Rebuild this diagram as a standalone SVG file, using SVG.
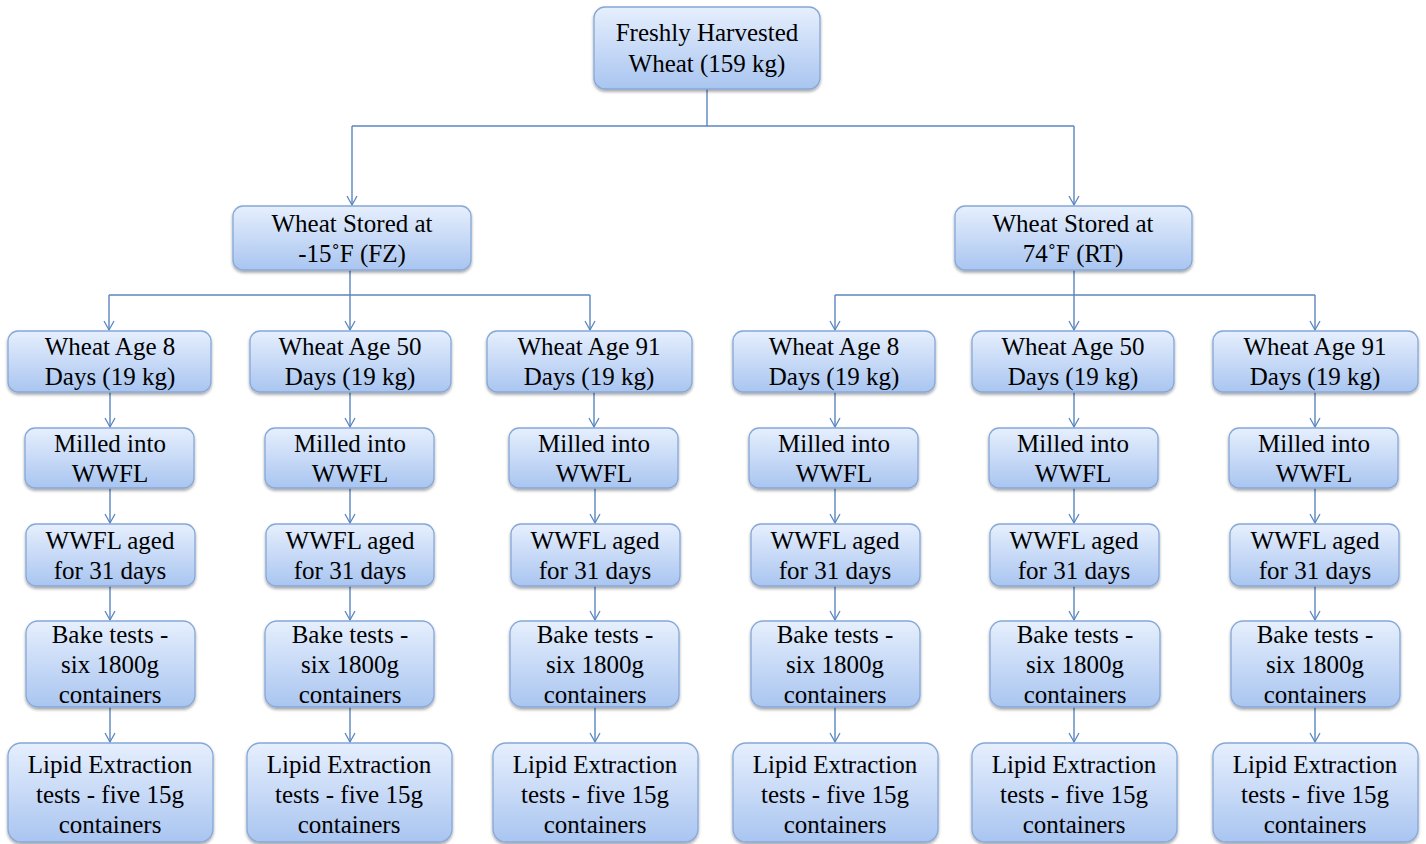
<svg xmlns="http://www.w3.org/2000/svg" width="1426" height="844" viewBox="0 0 1426 844">
<style>
.b{fill:url(#g);stroke:#86a8d8;stroke-width:1.3;filter:url(#sh)}
.c{fill:none;stroke:#5a86c0;stroke-width:1.4}
.a{fill:none;stroke:#5a86c0;stroke-width:1.4;marker-end:url(#ar)}
</style>
<defs>
<linearGradient id="g" x1="0" y1="0" x2="0" y2="1">
<stop offset="0" stop-color="#e6effd"/>
<stop offset="1" stop-color="#a9c5f0"/>
</linearGradient>
<filter id="sh" x="-10%" y="-10%" width="120%" height="130%">
<feDropShadow dx="0" dy="2" stdDeviation="1.5" flood-color="#000" flood-opacity="0.35"/>
</filter>
<marker id="ar" markerWidth="12" markerHeight="12" refX="10" refY="6" orient="auto" markerUnits="userSpaceOnUse" viewBox="0 0 12 12">
<path d="M1,1 L10,6 L1,11" fill="none" stroke="#5a86c0" stroke-width="1.3"/>
</marker>
</defs>
<rect width="1426" height="844" fill="#fff"/>
<g id="connectors">
<path class="c" d="M707,89 V126 M352,126 H1074"/>
<path class="a" d="M352,126 V205"/>
<path class="a" d="M1074,126 V205"/>
<path class="c" d="M350,270 V295 M109,295 H590"/>
<path class="a" d="M109,295 V330"/>
<path class="a" d="M350,295 V330"/>
<path class="a" d="M590,295 V330"/>
<path class="c" d="M1074,270 V295 M835,295 H1315"/>
<path class="a" d="M835,295 V330"/>
<path class="a" d="M1074,295 V330"/>
<path class="a" d="M1315,295 V330"/>
<path class="a" d="M110,392 V427"/><path class="a" d="M350,392 V427"/><path class="a" d="M594,392 V427"/><path class="a" d="M835,392 V427"/><path class="a" d="M1074,392 V427"/><path class="a" d="M1315,392 V427"/>
<path class="a" d="M110,488 V523"/><path class="a" d="M350,488 V523"/><path class="a" d="M595,488 V523"/><path class="a" d="M835,488 V523"/><path class="a" d="M1074,488 V523"/><path class="a" d="M1315,488 V523"/>
<path class="a" d="M110,586 V620"/><path class="a" d="M350,586 V620"/><path class="a" d="M595,586 V620"/><path class="a" d="M835,586 V620"/><path class="a" d="M1074,586 V620"/><path class="a" d="M1315,586 V620"/>
<path class="a" d="M110,707 V742"/><path class="a" d="M350,707 V742"/><path class="a" d="M595,707 V742"/><path class="a" d="M835,707 V742"/><path class="a" d="M1074,707 V742"/><path class="a" d="M1315,707 V742"/>
</g>
<g id="nodes" font-family="Liberation Serif" font-size="25" fill="#000" text-anchor="middle">
<g id="root"><rect class="b" x="594" y="7" width="226" height="82" rx="11"/><text x="707" y="41">Freshly Harvested</text><text x="707" y="72">Wheat (159 kg)</text></g>
<g id="fz"><rect class="b" x="233" y="206" width="238" height="64" rx="10"/><text x="352" y="232">Wheat Stored at</text><text x="352" y="262">-15˚F (FZ)</text></g>
<g id="rt"><rect class="b" x="955" y="206" width="237" height="64" rx="10"/><text x="1073" y="232">Wheat Stored at</text><text x="1073" y="262">74˚F (RT)</text></g>

<g id="age1"><rect class="b" x="8" y="331" width="203" height="61" rx="10"/><text x="110" y="355">Wheat Age 8</text><text x="110" y="385">Days (19 kg)</text></g>
<g id="age2"><rect class="b" x="250" y="331" width="201" height="61" rx="10"/><text x="350" y="355">Wheat Age 50</text><text x="350" y="385">Days (19 kg)</text></g>
<g id="age3"><rect class="b" x="487" y="331" width="205" height="61" rx="10"/><text x="589" y="355">Wheat Age 91</text><text x="589" y="385">Days (19 kg)</text></g>
<g id="age4"><rect class="b" x="733" y="331" width="202" height="61" rx="10"/><text x="834" y="355">Wheat Age 8</text><text x="834" y="385">Days (19 kg)</text></g>
<g id="age5"><rect class="b" x="972" y="331" width="202" height="61" rx="10"/><text x="1073" y="355">Wheat Age 50</text><text x="1073" y="385">Days (19 kg)</text></g>
<g id="age6"><rect class="b" x="1213" y="331" width="205" height="61" rx="10"/><text x="1315" y="355">Wheat Age 91</text><text x="1315" y="385">Days (19 kg)</text></g>

<g id="mill1"><rect class="b" x="25" y="428" width="169" height="60" rx="10"/><text x="110" y="452">Milled into</text><text x="110" y="482">WWFL</text></g>
<g id="mill2"><rect class="b" x="265" y="428" width="169" height="60" rx="10"/><text x="350" y="452">Milled into</text><text x="350" y="482">WWFL</text></g>
<g id="mill3"><rect class="b" x="509" y="428" width="169" height="60" rx="10"/><text x="594" y="452">Milled into</text><text x="594" y="482">WWFL</text></g>
<g id="mill4"><rect class="b" x="749" y="428" width="169" height="60" rx="10"/><text x="834" y="452">Milled into</text><text x="834" y="482">WWFL</text></g>
<g id="mill5"><rect class="b" x="989" y="428" width="169" height="60" rx="10"/><text x="1073" y="452">Milled into</text><text x="1073" y="482">WWFL</text></g>
<g id="mill6"><rect class="b" x="1229" y="428" width="169" height="60" rx="10"/><text x="1314" y="452">Milled into</text><text x="1314" y="482">WWFL</text></g>

<g id="aged1"><rect class="b" x="26" y="524" width="169" height="62" rx="10"/><text x="110" y="549">WWFL aged</text><text x="110" y="579">for 31 days</text></g>
<g id="aged2"><rect class="b" x="266" y="524" width="168" height="62" rx="10"/><text x="350" y="549">WWFL aged</text><text x="350" y="579">for 31 days</text></g>
<g id="aged3"><rect class="b" x="511" y="524" width="169" height="62" rx="10"/><text x="595" y="549">WWFL aged</text><text x="595" y="579">for 31 days</text></g>
<g id="aged4"><rect class="b" x="751" y="524" width="169" height="62" rx="10"/><text x="835" y="549">WWFL aged</text><text x="835" y="579">for 31 days</text></g>
<g id="aged5"><rect class="b" x="990" y="524" width="169" height="62" rx="10"/><text x="1074" y="549">WWFL aged</text><text x="1074" y="579">for 31 days</text></g>
<g id="aged6"><rect class="b" x="1230" y="524" width="169" height="62" rx="10"/><text x="1315" y="549">WWFL aged</text><text x="1315" y="579">for 31 days</text></g>

<g id="bake1"><rect class="b" x="26" y="621" width="169" height="86" rx="12"/><text x="110" y="643">Bake tests -</text><text x="110" y="673">six 1800g</text><text x="110" y="703">containers</text></g>
<g id="bake2"><rect class="b" x="265" y="621" width="169" height="86" rx="12"/><text x="350" y="643">Bake tests -</text><text x="350" y="673">six 1800g</text><text x="350" y="703">containers</text></g>
<g id="bake3"><rect class="b" x="510" y="621" width="169" height="86" rx="12"/><text x="595" y="643">Bake tests -</text><text x="595" y="673">six 1800g</text><text x="595" y="703">containers</text></g>
<g id="bake4"><rect class="b" x="751" y="621" width="169" height="86" rx="12"/><text x="835" y="643">Bake tests -</text><text x="835" y="673">six 1800g</text><text x="835" y="703">containers</text></g>
<g id="bake5"><rect class="b" x="990" y="621" width="170" height="86" rx="12"/><text x="1075" y="643">Bake tests -</text><text x="1075" y="673">six 1800g</text><text x="1075" y="703">containers</text></g>
<g id="bake6"><rect class="b" x="1231" y="621" width="169" height="86" rx="12"/><text x="1315" y="643">Bake tests -</text><text x="1315" y="673">six 1800g</text><text x="1315" y="703">containers</text></g>

<g id="lipid1"><rect class="b" x="8" y="743" width="205" height="99" rx="13"/><text x="110" y="773">Lipid Extraction</text><text x="110" y="803">tests - five 15g</text><text x="110" y="833">containers</text></g>
<g id="lipid2"><rect class="b" x="247" y="743" width="205" height="99" rx="13"/><text x="349" y="773">Lipid Extraction</text><text x="349" y="803">tests - five 15g</text><text x="349" y="833">containers</text></g>
<g id="lipid3"><rect class="b" x="493" y="743" width="205" height="99" rx="13"/><text x="595" y="773">Lipid Extraction</text><text x="595" y="803">tests - five 15g</text><text x="595" y="833">containers</text></g>
<g id="lipid4"><rect class="b" x="733" y="743" width="205" height="99" rx="13"/><text x="835" y="773">Lipid Extraction</text><text x="835" y="803">tests - five 15g</text><text x="835" y="833">containers</text></g>
<g id="lipid5"><rect class="b" x="972" y="743" width="205" height="99" rx="13"/><text x="1074" y="773">Lipid Extraction</text><text x="1074" y="803">tests - five 15g</text><text x="1074" y="833">containers</text></g>
<g id="lipid6"><rect class="b" x="1213" y="743" width="205" height="99" rx="13"/><text x="1315" y="773">Lipid Extraction</text><text x="1315" y="803">tests - five 15g</text><text x="1315" y="833">containers</text></g>
</g>
</svg>
